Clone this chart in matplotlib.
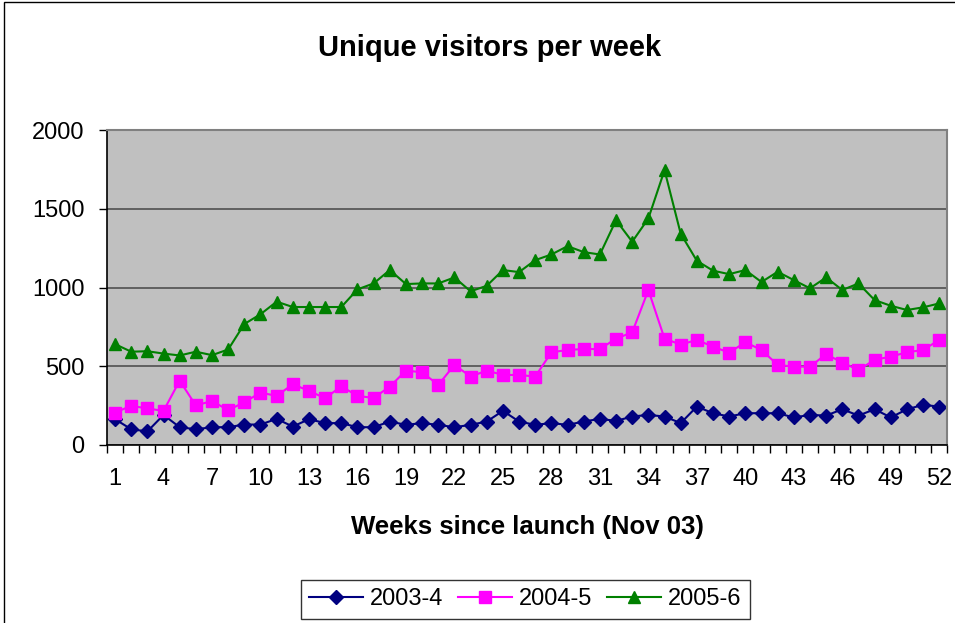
import matplotlib
matplotlib.use('Agg')
import matplotlib.pyplot as plt
import numpy as np

weeks = np.arange(1, 53)

visitors_2003 = [163, 99, 85, 190, 112, 99, 112, 112, 129, 129,
                 165, 116, 163, 138, 138, 112, 112, 148, 127, 138,
                 127, 112, 127, 148, 216, 148, 127, 138, 127, 148,
                 165, 152, 180, 190, 180, 138, 243, 201, 180, 201,
                 201, 201, 174, 190, 186, 226, 186, 226, 174, 226,
                 254, 243]
visitors_2004 = [205, 248, 231, 216, 408, 250, 279, 220, 271, 332,
                 311, 385, 343, 296, 372, 311, 298, 370, 472, 461,
                 381, 508, 434, 472, 444, 444, 434, 588, 603, 609,
                 609, 675, 715, 984, 675, 637, 667, 624, 586, 652,
                 603, 508, 497, 497, 576, 523, 476, 540, 561, 588,
                 603, 667]
visitors_2005 = [640, 592, 595, 580, 568, 592, 570, 606, 768, 830,
                 910, 876, 876, 876, 876, 988, 1026, 1111, 1022, 1026,
                 1026, 1064, 976, 1011, 1111, 1098, 1174, 1210, 1263, 1225,
                 1210, 1428, 1291, 1439, 1746, 1342, 1170, 1107, 1085, 1111,
                 1035, 1100, 1047, 995, 1064, 984, 1026, 920, 884, 857,
                 874, 899]

series = [
    ('2003-4', visitors_2003, '#000080', 'D', 7.5),
    ('2004-5', visitors_2004, '#FF00FF', 's', 8.3),
    ('2005-6', visitors_2005, '#008000', '^', 9),
]

plt.rcParams['font.family'] = ['Liberation Sans', 'DejaVu Sans']

fig = plt.figure(figsize=(9.55, 6.23), dpi=100)
ax = fig.add_axes([0.112, 0.286, 0.880, 0.505])
ax.set_facecolor('#C0C0C0')

for label, vals, color, marker, ms in series:
    ax.plot(weeks, vals, color=color, lw=1.5, marker=marker, markersize=ms,
            markerfacecolor=color, markeredgecolor=color, label=label)

ax.set_xlim(0.5, 52.5)
ax.set_ylim(0, 2000)
ax.set_yticks([0, 500, 1000, 1500, 2000])
ax.set_xticks(weeks[::3])
ax.set_xticks(np.arange(0.5, 53, 1), minor=True)
ax.tick_params(axis='x', which='major', length=0, labelsize=17, pad=17)
ax.tick_params(axis='x', which='minor', length=6, width=1, direction='out')
ax.tick_params(axis='y', length=6, width=1, labelsize=17, pad=10)
ax.yaxis.grid(True, color='#505050', lw=1.2)
ax.set_axisbelow(True)

for side in ['top', 'right']:
    ax.spines[side].set_color('#808080')
    ax.spines[side].set_linewidth(1.5)
for side in ['left', 'bottom']:
    ax.spines[side].set_color('black')
    ax.spines[side].set_linewidth(1.2)

fig.text(0.552, 0.154, 'Weeks since launch (Nov 03)', ha='center', va='center',
         fontsize=18.5, fontweight='bold')
fig.text(0.513, 0.923, 'Unique visitors per week', ha='center', va='center',
         fontsize=21, fontweight='bold')

leg = fig.legend(loc='center', bbox_to_anchor=(0.550, 0.038), ncol=3, fontsize=17,
                 frameon=True, fancybox=False, edgecolor='black', handlelength=2.3,
                 columnspacing=0.6, handletextpad=0.3, borderpad=0.35)
leg.get_frame().set_linewidth(1)

# outer chart border
fig.patches.append(plt.Rectangle((0.004, -0.01), 1.2, 1.007, transform=fig.transFigure,
                                 fill=False, edgecolor='black', lw=1))

plt.savefig('out.png', dpi=100)
plt.close()
